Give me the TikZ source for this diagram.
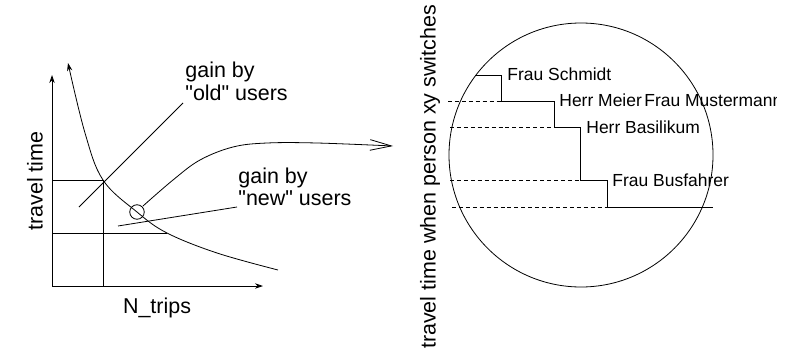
\documentclass[tikz,border=0pt]{standalone}
\usepackage{fontspec}
\setmainfont{Liberation Sans}
\usetikzlibrary{arrows.meta}
\begin{document}
\begin{tikzpicture}[x=0.75pt,y=-0.75pt,line width=0.6pt,
  big/.style={font=\fontsize{16.1pt}{19pt}\selectfont, inner sep=0pt},
  small/.style={font=\fontsize{13.1pt}{15pt}\selectfont, inner sep=0pt},
  tip/.style={-{Stealth[length=6pt,width=4pt]}},
  vtip/.style={-{Straight Barb[length=16pt,width=8pt,line width=0.6pt]}},
  dsh/.style={dash pattern=on 3pt off 2.2pt}]
\useasboundingbox (0,0) rectangle (791,360);
\clip (0,0) rectangle (776,360);
% left panel
\coordinate (o) at (52,286);
\coordinate (ytop) at (52,75);
\coordinate (xend) at (263,286);
\draw[tip] (o) -- (ytop);
\draw[tip] (o) -- (xend);
\node[big, rotate=90] (ylab) at (35,181) {travel time};
\node[big, anchor=base] (xlab) at (157,313) {N\_trips};
\draw[tip] plot[smooth, tension=0.6] coordinates {(278,270) (217,253) (167,233) (137,212) (103,180) (85,133) (68,63)};
\coordinate (h1a) at (52,180); \coordinate (h1b) at (103,180);
\coordinate (v1b) at (103,286);
\draw (h1a) -- (h1b) -- (v1b);
\coordinate (h2a) at (52,233); \coordinate (h2b) at (167,233);
\draw (h2a) -- (h2b);
\coordinate (p1a) at (79,207); \coordinate (p1b) at (183,103);
\draw (p1a) -- (p1b);
\node[big, anchor=base west] (g1) at (185,77) {gain by};
\node[big, anchor=base west] (g1b) at (185,100) {\textquotedbl old\textquotedbl{} users};
\coordinate (p2a) at (118,226); \coordinate (p2b) at (237,207);
\draw (p2a) -- (p2b);
\node[big, anchor=base west] (g2) at (238,183) {gain by};
\node[big, anchor=base west] (g2b) at (238,205) {\textquotedbl new\textquotedbl{} users};
\node[circle, draw, minimum size=14.5*0.75pt, inner sep=0pt] (c) at (137,212) {};
\draw[vtip] plot[smooth, tension=0.6] coordinates {(143,206) (173,180) (200,160) (233,147) (267,143) (317,143) (393,146)};
% right panel
\node[circle, draw, minimum size=264*0.75pt, inner sep=0pt] (big) at (581,155) {};
\node[big, rotate=90] (rlab) at (430,177) {travel time when person xy switches};
\draw (475,75) -- (501,75) -- (501,101) -- (554,101) -- (554,127) -- (580,127) -- (580,180) -- (607,180) -- (607,207) -- (713,207);
\draw[dsh] (448,101) -- (501,101);
\draw[dsh] (450,127) -- (554,127);
\draw[dsh] (450,180) -- (580,180);
\draw[dsh] (452,207) -- (660,207);
\node[small, anchor=base west] (s1) at (507,80) {Frau Schmidt};
\node[small, anchor=base west] (s2) at (559,106) {Herr Meier};
\node[small, anchor=base west] (s3) at (644,106) {Frau Mustermann};
\node[small, anchor=base west] (s4) at (586,133) {Herr Basilikum};
\node[small, anchor=base west] (s5) at (612,186) {Frau Busfahrer};
\end{tikzpicture}
\end{document}
